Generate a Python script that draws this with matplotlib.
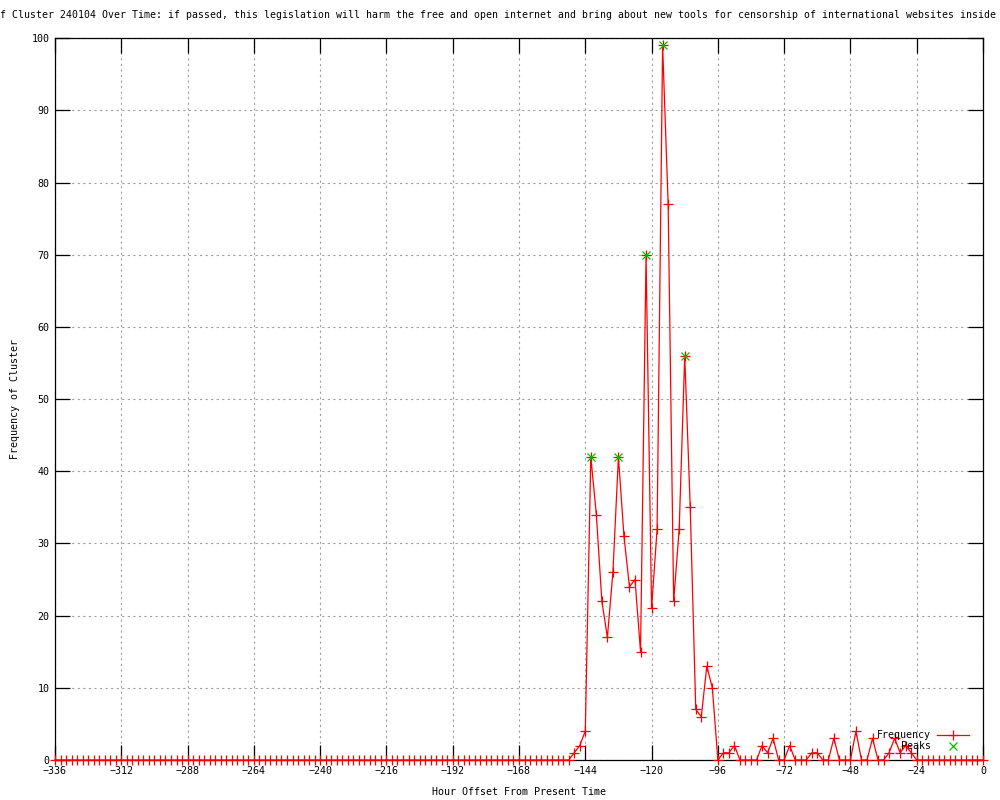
import numpy as np
import matplotlib.pyplot as plt

# hour offsets, one sample every 2 hours
hours = list(range(-336, 1, 2))

# non-zero counts by hour, everything else is 0
counts_nz = {
    -148: 1, -146: 2, -144: 4, -142: 42, -140: 34, -138: 22, -136: 17,
    -134: 26, -132: 42, -130: 31, -128: 24, -126: 25, -124: 15, -122: 70,
    -120: 21, -118: 32, -116: 99, -114: 77, -112: 22, -110: 32, -108: 56,
    -106: 35, -104: 7, -102: 6, -100: 13, -98: 10, -94: 1, -92: 1, -90: 2,
    -80: 2, -78: 1, -76: 3, -70: 2, -62: 1, -60: 1, -54: 3, -46: 4, -40: 3,
    -34: 1, -32: 3, -30: 1, -28: 2, -26: 1,
}
freq = [counts_nz.get(h, 0) for h in hours]

peak_hours = [-142, -132, -122, -116, -108]
peak_vals = [42, 42, 70, 99, 56]

xticks = list(range(-336, 1, 24))
yticks = list(range(0, 101, 10))

# the title as it shows in the picture (its ends fall off the canvas)
title = ("f Cluster 240104 Over Time: if passed, this legislation will harm "
         "the free and open internet and bring about new tools for censorship of "
         "international websites inside")

mono = 'DejaVu Sans Mono'
fs = 7.2

fig = plt.figure(figsize=(10, 8), dpi=100)
ax = fig.add_axes([0.055, 0.05, 0.928, 0.9022])

ax.plot(hours, freq, color='#ff0000', lw=0.9, marker='+', ms=7, mew=0.9,
        label='Frequency', clip_on=False, zorder=3)
ax.plot(peak_hours, peak_vals, ls='none', color='#00c000', marker='x', ms=6, mew=0.9,
        label='Peaks', clip_on=False, zorder=4)

ax.set_xlim(-336, 0)
ax.set_ylim(0, 100)
ax.set_xticks(xticks)
ax.set_yticks(yticks)
ax.grid(True, color='#a0a0a0', ls=(0, (2, 3)), lw=0.8)
ax.tick_params(direction='in', length=11, width=0.9, top=True, right=True,
               labelsize=fs, pad=4)
for lab in ax.get_xticklabels() + ax.get_yticklabels():
    lab.set_family(mono)
for s in ax.spines.values():
    s.set_linewidth(0.9)

ax.set_xlabel('Hour Offset From Present Time', family=mono, fontsize=fs, labelpad=8)
ax.set_ylabel('Frequency of Cluster', family=mono, fontsize=fs, labelpad=8)

fig.text(0.4985, 0.981, title, ha='center', va='center', family=mono, fontsize=7.13)

leg = ax.legend(loc='lower right', bbox_to_anchor=(0.995, 0.0), frameon=False,
                prop={'family': mono, 'size': fs}, markerfirst=False,
                handlelength=3.2, handletextpad=0.6, labelspacing=0.1)
for t in leg.get_texts():
    t.set_ha('right')

fig.savefig('out.png', dpi=100)
